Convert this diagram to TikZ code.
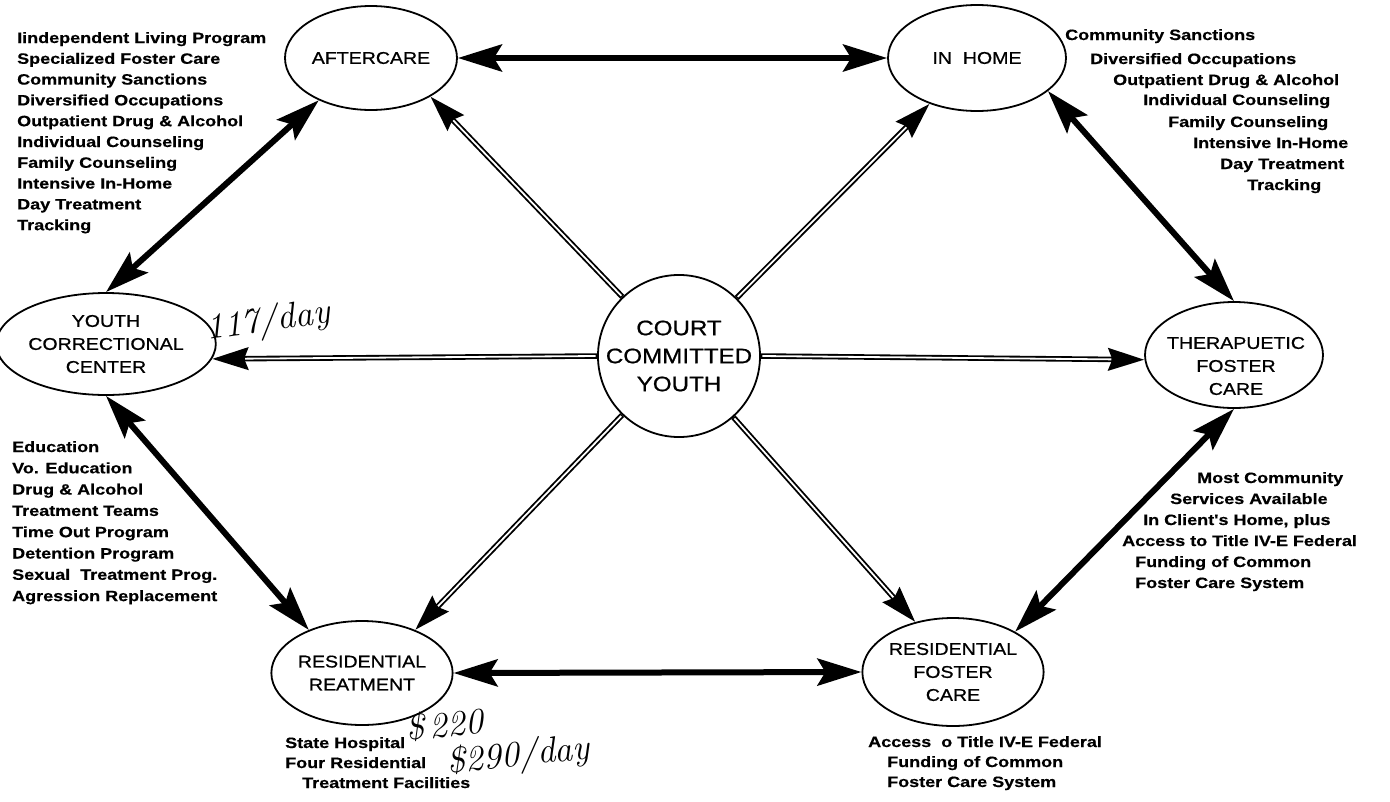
\documentclass[tikz,border=0pt]{standalone}
\usepackage{fontspec}
\usetikzlibrary{shapes.geometric,arrows.meta}
\newfontfamily\labfont{Liberation Sans}[FakeStretch=1.15,FakeBold=0.8]
\newfontfamily\lstfont{Liberation Sans}[FakeStretch=1.2,FakeBold=0.5]
\begin{document}
\begin{tikzpicture}[x=1pt,y=-1pt,
 oval/.style={draw, ellipse, line width=1.8pt, inner sep=0pt, align=center, font=\labfont\fontsize{17}{23}\selectfont},
 ovaltext/.style={inner sep=0pt, align=center, font=\labfont\fontsize{17}{23}\selectfont},
 hub/.style={draw, circle, line width=1.8pt, minimum size=156pt, inner sep=0pt, align=center, font=\labfont\fontsize{21}{28}\selectfont},
 item/.style={anchor=base west, inner sep=0pt, font=\lstfont\bfseries\fontsize{15}{21}\selectfont},
 both/.style={line width=6pt, {Stealth[length=44pt,width=27pt,inset=8pt]}-{Stealth[length=44pt,width=27pt,inset=8pt]}},
 feedouter/.style={line width=5.5pt, -{Stealth[length=36pt,width=22pt,inset=4pt]}},
 feedinner/.style={white, line width=1.8pt, shorten <=1.5pt, shorten >=33pt},
 hand/.style={inner sep=0pt, align=left, font=\itshape\fontsize{36}{37}\selectfont}
]
\useasboundingbox (0,0) rectangle (1390,801);
\fill[white] (0,0) rectangle (1390,801);

% nodes
\node[oval, minimum width=172pt, minimum height=104pt] (aft) at (371,58) {AFTERCARE};
\node[oval, minimum width=178pt, minimum height=106pt] (inh) at (977,58) {IN\ \ HOME};
\node[oval, minimum width=184pt, minimum height=102pt] (ycc) at (106,344) {YOUTH\\CORRECTIONAL\\CENTER};
\node[hub] (c) at (679,356) {COURT\\COMMITTED\\YOUTH};
\node[oval, minimum width=178pt, minimum height=106pt] (ther) at (1234,355) {};
\node[ovaltext] (thert) at (1236,366) {THERAPUETIC\\FOSTER\\CARE};
\node[oval, minimum width=180pt, minimum height=104pt] (rr) at (362,673) {RESIDENTIAL\\REATMENT};
\node[oval, minimum width=172pt, minimum height=108pt] (rfc) at (953,672) {RESIDENTIAL\\FOSTER\\CARE};

% thick two-way arrows
\draw[both] (aft.east) -- (inh.west);
\draw[both] (aft.219) -- (ycc.north);
\draw[both] (inh.-25) -- (ther.north);
\draw[both] (ycc.south) -- (rr.141);
\draw[both] (rr.east) -- (rfc.west);
\draw[both] (ther.south) -- (rfc.33);

% double-line arrows from the hub
\draw[feedouter] (c) -- (aft.-33);   \draw[feedinner] (c) -- (aft.-33);
\draw[feedouter] (c) -- (inh.224);   \draw[feedinner] (c) -- (inh.224);
\draw[feedouter] (c.west) -- (ycc.-8); \draw[feedinner] (c.west) -- (ycc.-8);
\draw[feedouter] (c.east) -- (ther.183); \draw[feedinner] (c.east) -- (ther.183);
\draw[feedouter] (c) -- (rr.39);     \draw[feedinner] (c) -- (rr.39);
\draw[feedouter] (c) -- (rfc.127);   \draw[feedinner] (c) -- (rfc.127);

% Aftercare list
\node[item] (a1) at (17,43) {Iindependent Living Program};
\node[item] (a2) at (17,63.8) {Specialized Foster Care};
\node[item] (a3) at (17,84.6) {Community Sanctions};
\node[item] (a4) at (17,105.4) {Diversified Occupations};
\node[item] (a5) at (17,126.2) {Outpatient Drug \& Alcohol};
\node[item] (a6) at (17,147) {Individual Counseling};
\node[item] (a7) at (17,167.8) {Family Counseling};
\node[item] (a8) at (17,188.6) {Intensive In-Home};
\node[item] (a9) at (17,209.4) {Day Treatment};
\node[item] (a10) at (17,230.2) {Tracking};

% In home list
\node[item] (h1) at (1065,40) {Community Sanctions};
\node[item] (h2) at (1090,64) {Diversified Occupations};
\node[item] (h3) at (1113,85) {Outpatient Drug \& Alcohol};
\node[item] (h4) at (1143,105) {Individual Counseling};
\node[item] (h5) at (1168,127) {Family Counseling};
\node[item] (h6) at (1193,148) {Intensive In-Home};
\node[item] (h7) at (1220,169) {Day Treatment};
\node[item] (h8) at (1247,190) {Tracking};

% Youth correctional list
\node[item] (y1) at (12,452) {Education};
\node[item] (y2) at (12,473.3) {Vo. Education};
\node[item] (y3) at (12,494.6) {Drug \& Alcohol};
\node[item] (y4) at (12,515.9) {Treatment Teams};
\node[item] (y5) at (12,537.2) {Time Out Program};
\node[item] (y6) at (12,558.5) {Detention Program};
\node[item] (y7) at (12,579.8) {Sexual\ \ Treatment Prog.};
\node[item] (y8) at (12,601.1) {Agression Replacement};

% Therapeutic list
\node[item] (t1) at (1197,483) {Most Community};
\node[item] (t2) at (1170,504) {Services Available};
\node[item] (t3) at (1143,525) {In Client's Home, plus};
\node[item] (t4) at (1122,546) {Access to Title IV-E Federal};
\node[item] (t5) at (1135,567) {Funding of Common};
\node[item] (t6) at (1135,588) {Foster Care System};

% Residential treatment list
\node[item] (r1) at (285,748) {State Hospital};
\node[item] (r2) at (285,768) {Four Residential};
\node[item] (r3) at (302,788) {Treatment Facilities};

% Residential foster care list
\node[item] (f1) at (868,747) {Access\ \ o Title IV-E Federal};
\node[item] (f2) at (887,767) {Funding of Common};
\node[item] (f3) at (887,787) {Foster Care System};

% handwritten notes
\node[hand, rotate=8] (n1) at (268,322) {117/day};
\node[hand, rotate=6, anchor=west] (n2) at (408,750) {\$\,220\\\hspace{38pt}\$290/day};
\end{tikzpicture}
\end{document}
